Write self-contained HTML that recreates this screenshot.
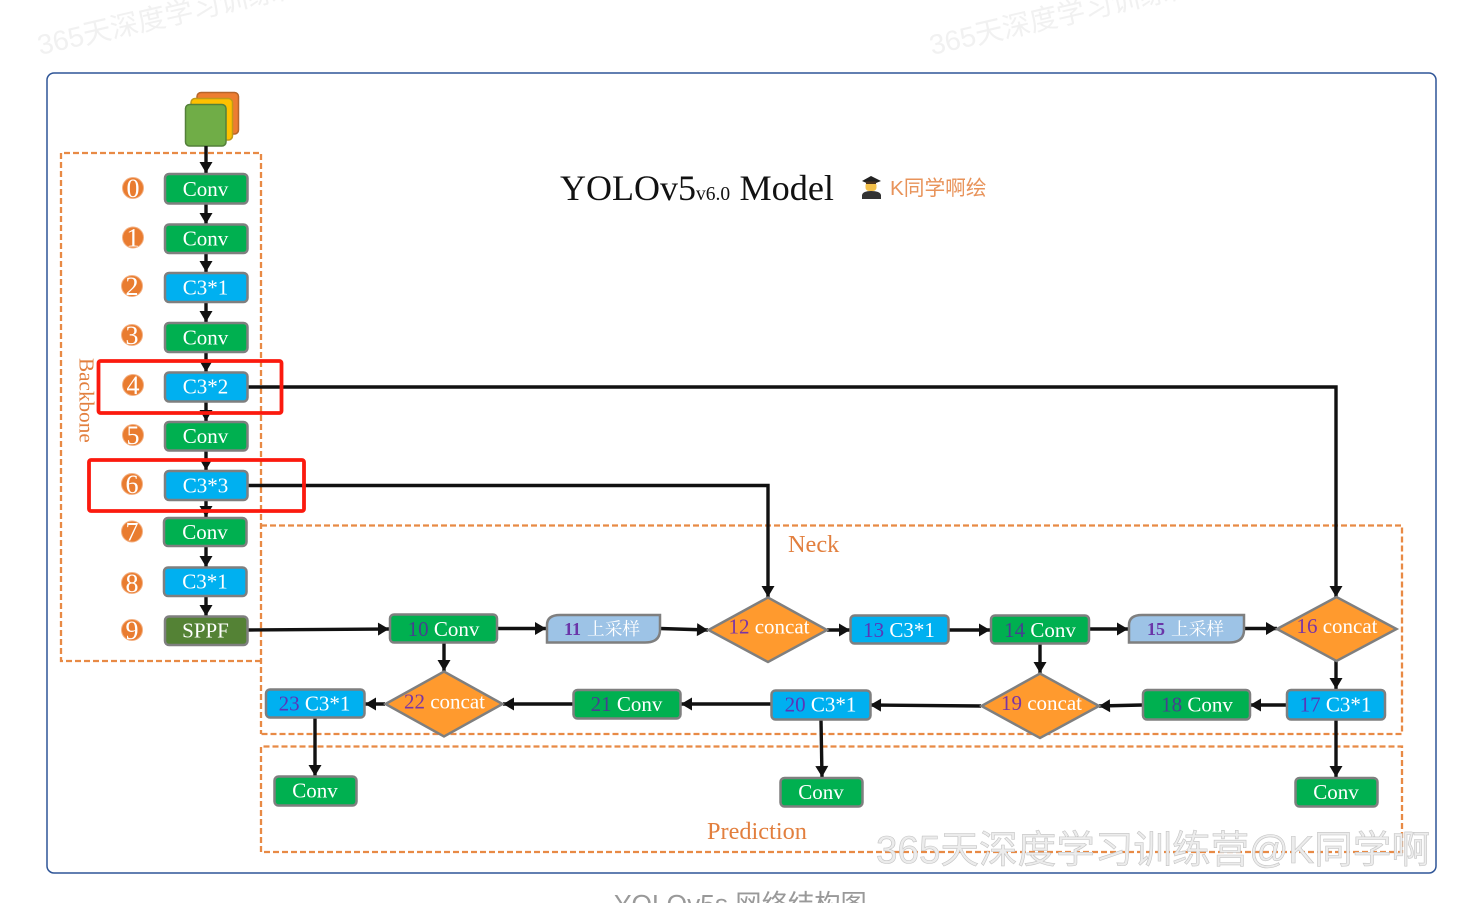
<!DOCTYPE html>
<html lang="zh">
<head>
<meta charset="utf-8">
<title>YOLOv5 Model</title>
<style>
html,body{margin:0;padding:0;background:#fff;width:1464px;height:903px;overflow:hidden}
svg{display:block}
.s{font-family:"Liberation Serif","Noto Serif CJK SC",serif}
.n{font-size:21px;fill:#fff;text-anchor:middle}
.box{stroke:#7f7f7f;stroke-width:2.5}
.g{fill:#00b050}
.b{fill:#00b0f0}
.o{fill:#ff9a2e;stroke:#7f7f7f;stroke-width:2.5}
.u{fill:#9dc3e6;stroke:#7f7f7f;stroke-width:2.5}
.pg{fill:#46408f}
.pb{fill:#5a35b8}
.po{fill:#7a35a5}
.c{fill:#e97c30;stroke:#f3b184;stroke-width:1}
.d{font-size:26px;fill:#fff;text-anchor:middle}
.dash{fill:none;stroke:#e88a45;stroke-width:2.3;stroke-dasharray:6 3}
.l{fill:none;stroke:#111;stroke-width:3.4;marker-end:url(#a)}
.lb{font-size:24.3px;fill:#e27f3e}
.wm{font-family:"Liberation Sans","Noto Sans CJK SC",sans-serif;font-size:28px;fill:#f1f1f1}
.cjk{font-size:17.7px;fill:#fff}
.bn{font-size:18px;font-weight:bold;fill:#6a35a8}
</style>
</head>
<body>
<svg width="1464" height="903" viewBox="0 0 1464 903" xmlns="http://www.w3.org/2000/svg">
<defs>
<marker id="a" markerUnits="userSpaceOnUse" markerWidth="14" markerHeight="14" refX="12" refY="7" orient="auto">
<path d="M1 0.5 L12 7 L1 13.5 Z" fill="#111"/>
</marker>
</defs>

<!-- faint top watermarks -->
<text class="wm" transform="translate(40,55) rotate(-13)">365天深度学习训练营</text>
<text class="wm" transform="translate(932,55) rotate(-13)">365天深度学习训练营</text>

<!-- frame -->
<rect x="47" y="73" width="1389" height="800" rx="7" fill="#fff" stroke="#2f5597" stroke-width="1.5"/>

<!-- group borders -->
<path class="dash" d="M261 661 H61 V153 H261 V734"/>
<path class="dash" d="M261 525.5 H1402 V734 H261"/>
<path class="dash" d="M261 852 V746.5 H1402 V852 H261"/>

<!-- input stack -->
<rect x="197" y="92.500" width="41.500" height="41.500" rx="4" fill="#ed7d31" stroke="#b7652a" stroke-width="1.500"/>
<rect x="191" y="98.500" width="41.500" height="41.500" rx="4" fill="#ffc000" stroke="#c09a1a" stroke-width="1.500"/>
<rect x="185.500" y="104.500" width="40.500" height="41.500" rx="4" fill="#70ad47" stroke="#54803a" stroke-width="1.500"/>

<!-- connectors -->
<path class="l" d="M206 146 V173"/>
<path class="l" d="M206 204 V224"/>
<path class="l" d="M206 253 V272"/>
<path class="l" d="M206 302 V322"/>
<path class="l" d="M206 352 V372"/>
<path class="l" d="M206 401 V421"/>
<path class="l" d="M206 451 V470"/>
<path class="l" d="M206 500 V517"/>
<path class="l" d="M206 546 V567"/>
<path class="l" d="M206 596 V616"/>
<path class="l" d="M248 387 H1336 V597"/>
<path class="l" d="M248 485.500 H768 V597"/>
<path class="l" d="M248 630 L389 629"/>
<path class="l" d="M498 628.500 H546"/>
<path class="l" d="M660 628.500 L708 630"/>
<path class="l" d="M827 630 H850"/>
<path class="l" d="M949 630 H990"/>
<path class="l" d="M1090 629 H1128"/>
<path class="l" d="M1244 628.500 H1277"/>
<path class="l" d="M1336 661 V689"/>
<path class="l" d="M1287 705 H1250"/>
<path class="l" d="M1142 705 L1099 706"/>
<path class="l" d="M981 706 L870 705"/>
<path class="l" d="M771 704 H681"/>
<path class="l" d="M573 704 H503"/>
<path class="l" d="M385 704 H365"/>
<path class="l" d="M444 643 V671"/>
<path class="l" d="M1040 644 V673"/>
<path class="l" d="M315 718 V776"/>
<path class="l" d="M821 720 L822 777"/>
<path class="l" d="M1336 720 V777"/>

<!-- backbone nodes -->
<g class="s">
<rect class="box g" x="165" y="174" width="82.500" height="29.500" rx="4"/><text class="n" x="205.500" y="196">Conv</text>
<rect class="box g" x="165" y="224.500" width="82.500" height="28.500" rx="4"/><text class="n" x="205.500" y="245.500">Conv</text>
<rect class="box b" x="165" y="273" width="82.500" height="29" rx="4"/><text class="n" x="205.500" y="294.500">C3*1</text>
<rect class="box g" x="165" y="323" width="82.500" height="29" rx="4"/><text class="n" x="205.500" y="344.500">Conv</text>
<rect class="box b" x="165" y="372.500" width="82.500" height="29" rx="4"/><text class="n" x="205.500" y="393.500">C3*2</text>
<rect class="box g" x="165" y="422" width="82.500" height="28.500" rx="4"/><text class="n" x="205.500" y="443">Conv</text>
<rect class="box b" x="165" y="471" width="82.500" height="29" rx="4"/><text class="n" x="205.500" y="492.500">C3*3</text>
<rect class="box g" x="164" y="518" width="82.500" height="28" rx="4"/><text class="n" x="205" y="539">Conv</text>
<rect class="box b" x="164" y="567.500" width="82.500" height="28.500" rx="4"/><text class="n" x="205" y="588.500">C3*1</text>
<rect class="box" style="fill:#548235" x="165" y="616.500" width="82.500" height="28.500" rx="4"/><text class="n" x="205.500" y="637.500">SPPF</text>

<circle class="c" cx="133" cy="188" r="10.500"/><text class="d" x="133" y="197">0</text>
<circle class="c" cx="133" cy="237.500" r="10.500"/><text class="d" x="133" y="246.500">1</text>
<circle class="c" cx="132" cy="286" r="10.500"/><text class="d" x="132" y="295">2</text>
<circle class="c" cx="132" cy="335" r="10.500"/><text class="d" x="132" y="344">3</text>
<circle class="c" cx="133" cy="385" r="10.500"/><text class="d" x="133" y="394">4</text>
<circle class="c" cx="133" cy="435" r="10.500"/><text class="d" x="133" y="444">5</text>
<circle class="c" cx="132" cy="484" r="10.500"/><text class="d" x="132" y="493">6</text>
<circle class="c" cx="132" cy="531.500" r="10.500"/><text class="d" x="132" y="540.500">7</text>
<circle class="c" cx="132" cy="583" r="10.500"/><text class="d" x="132" y="592">8</text>
<circle class="c" cx="132" cy="630" r="10.500"/><text class="d" x="132" y="639">9</text>

<!-- row 1 -->
<rect class="box g" x="390" y="614.500" width="107" height="28" rx="4"/><text class="n" x="443.500" y="636"><tspan class="pg">10</tspan> Conv</text>
<path class="u" d="M547 642.500 V625 Q547 615 560 615 H660 V630 Q660 642.500 645 642.500 Z"/>
<text class="bn" x="564" y="635">11</text><text class="cjk" x="587" y="635">上采样</text>
<polygon class="o" points="708.500,630 768,597.500 827,630 768,662"/><text class="n" x="769" y="633.500"><tspan class="po">12</tspan> concat</text>
<rect class="box b" x="850.500" y="615.500" width="98" height="28" rx="4"/><text class="n" x="899" y="637"><tspan class="pb">13</tspan> C3*1</text>
<rect class="box g" x="991" y="615.500" width="98" height="28" rx="4"/><text class="n" x="1040" y="637"><tspan class="pg">14</tspan> Conv</text>
<path class="u" d="M1129 642.500 V625 Q1129 615 1142 615 H1244 V630 Q1244 642.500 1229 642.500 Z"/>
<text class="bn" x="1147" y="635">15</text><text class="cjk" x="1171" y="635">上采样</text>
<polygon class="o" points="1277,629 1336.500,597 1396.500,629 1336.500,661"/><text class="n" x="1337" y="633"><tspan class="po">16</tspan> concat</text>

<!-- row 2 -->
<rect class="box b" x="1287" y="690" width="98" height="29.500" rx="4"/><text class="n" x="1335.500" y="711.500"><tspan class="pb">17</tspan> C3*1</text>
<rect class="box g" x="1143" y="690" width="107" height="29.500" rx="4"/><text class="n" x="1197" y="711.500"><tspan class="pg">18</tspan> Conv</text>
<polygon class="o" points="981.500,706 1040,673.500 1099,706 1040,738"/><text class="n" x="1041.500" y="710"><tspan class="po">19</tspan> concat</text>
<rect class="box b" x="771.500" y="690.500" width="99" height="29" rx="4"/><text class="n" x="820.500" y="711.500"><tspan class="pb">20</tspan> C3*1</text>
<rect class="box g" x="573.500" y="690" width="107" height="28.500" rx="4"/><text class="n" x="626.500" y="711"><tspan class="pg">21</tspan> Conv</text>
<polygon class="o" points="385.500,704 444,671.500 502.500,704 444,736.500"/><text class="n" x="444.500" y="708.500"><tspan class="po">22</tspan> concat</text>
<rect class="box b" x="266" y="689.500" width="98.500" height="28" rx="4"/><text class="n" x="314.500" y="710.500"><tspan class="pb">23</tspan> C3*1</text>

<!-- prediction -->
<rect class="box g" x="274.500" y="776.500" width="82" height="29" rx="4"/><text class="n" x="315" y="797.500">Conv</text>
<rect class="box g" x="780.500" y="778" width="82" height="28.500" rx="4"/><text class="n" x="821" y="799">Conv</text>
<rect class="box g" x="1295.500" y="778" width="82" height="28.500" rx="4"/><text class="n" x="1336" y="799">Conv</text>

<!-- labels -->
<text class="lb" x="788" y="552">Neck</text>
<text class="lb" x="707" y="839">Prediction</text>
<text style="font-size:21.200px;fill:#e27f3e" transform="translate(79.500,358) rotate(90)">Backbone</text>

<!-- title -->
<text x="560" y="200" font-size="36" fill="#111">YOLOv5<tspan font-size="19.500">v6.0</tspan><tspan x="739.500" font-size="36.200">Model</tspan></text>
</g>

<!-- author emoji -->
<polygon points="862,181 871,176 881,181 871,185" fill="#222"/>
<rect x="865.500" y="182" width="11" height="9" rx="3.500" fill="#f3c04a"/>
<rect x="866" y="181.500" width="10" height="2.500" fill="#4a3320"/>
<path d="M862 199 V195 Q863 191 871 191 Q880 191 881 195 V199 Z" fill="#333"/>
<text x="890" y="195" font-size="20.700" fill="#e8935a" font-family="'Liberation Sans','Noto Sans CJK SC',sans-serif">K同学啊绘</text>

<!-- red highlight boxes -->
<rect x="98.500" y="361" width="183" height="52" rx="2" fill="none" stroke="#fb1a0e" stroke-width="3.800"/>
<rect x="89" y="460" width="215" height="51" rx="2" fill="none" stroke="#fb1a0e" stroke-width="3.800"/>

<!-- bottom watermark -->
<text x="876" y="863" font-size="38.500" textLength="554" lengthAdjust="spacingAndGlyphs" fill="#ececec" stroke="#c4c4c4" stroke-width="0.600" font-family="'Liberation Sans','Noto Sans CJK SC',sans-serif">365天深度学习训练营@K同学啊</text>

<!-- caption -->
<text x="614" y="913" font-size="26.300" fill="#999" font-family="'Liberation Sans','Noto Sans CJK SC',sans-serif">YOLOv5s 网络结构图</text>
</svg>
</body>
</html>
